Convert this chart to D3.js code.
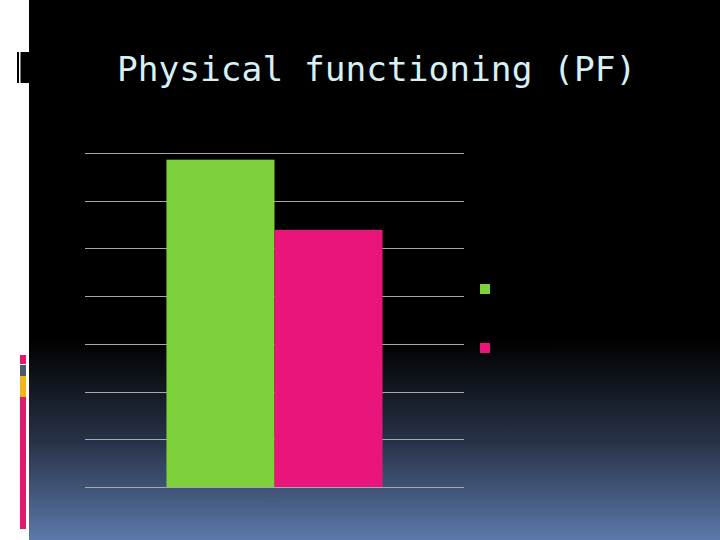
<!DOCTYPE html>
<html>
<head>
<meta charset="utf-8">
<script src="https://cdn.jsdelivr.net/npm/d3@7"></script>
<style>
  html, body { margin: 0; padding: 0; background: #fff; }
  svg { display: block; }
</style>
</head>
<body>
<div id="chart"></div>
<script>
// Chart data
const categories = ["PF"];
const seriesNames = ["Series 1", "Series 2"];
const seriesValues = [68.6, 53.9];
const seriesColors = ["#7fd13b", "#ea157a"];
const yTicks = [0, 10, 20, 30, 40, 50, 60, 70];

(function() {

const W = 720, H = 540;

const svg = d3.select("#chart")
    .append("svg")
    .attr("width", W)
    .attr("height", H);

// Slide background: white strip on the left, black fading to blue at the bottom
const defs = svg.append("defs");
const grad = defs.append("linearGradient")
    .attr("id", "bg")
    .attr("x1", 0).attr("y1", 0).attr("x2", 0).attr("y2", 1);
grad.append("stop").attr("offset", "0").attr("stop-color", "#000");
grad.append("stop").attr("offset", "0.63").attr("stop-color", "#000");
grad.append("stop").attr("offset", "0.82").attr("stop-color", "#283349");
grad.append("stop").attr("offset", "1").attr("stop-color", "#5b79ab");

svg.append("rect").attr("width", W).attr("height", H).attr("fill", "#fff");
svg.append("rect")
    .attr("x", 29).attr("y", 0)
    .attr("width", W - 29).attr("height", H)
    .attr("fill", "url(#bg)");

// Left decorations
svg.append("rect").attr("x", 17).attr("y", 52).attr("width", 12).attr("height", 31).attr("fill", "#000");
svg.append("rect").attr("x", 19).attr("y", 52).attr("width", 1.5).attr("height", 31).attr("fill", "#fff");
const stripes = [
    { y: 355, h: 9, c: "#e0196e" },
    { y: 365, h: 11, c: "#4a5a6a" },
    { y: 376, h: 21, c: "#f0b41c" },
    { y: 397, h: 132, c: "#e0196e" }
];
svg.selectAll(".stripe").data(stripes).enter().append("rect")
    .attr("class", "stripe")
    .attr("x", 20).attr("width", 6)
    .attr("y", d => d.y).attr("height", d => d.h)
    .attr("fill", d => d.c);

// Title
svg.append("text")
    .attr("x", 117)
    .attr("y", 81)
    .attr("font-family", "'DejaVu Sans Mono', 'Liberation Mono', monospace")
    .attr("font-size", "34.5px")
    .attr("fill", "#d6f0f6")
    .text("Physical functioning (PF)");

// Plot area
const margin = { left: 85, top: 153, right: 464, bottom: 487 };

const x0 = d3.scaleBand()
    .domain(categories)
    .range([margin.left, margin.right])
    .paddingInner(0)
    .paddingOuter(0.377);

const x1 = d3.scaleBand()
    .domain(seriesNames)
    .range([0, x0.bandwidth()]);

const y = d3.scaleLinear()
    .domain([0, 70])
    .range([margin.bottom, margin.top]);

// Gridlines
svg.append("g")
    .selectAll("line")
    .data(yTicks)
    .enter().append("line")
    .attr("x1", margin.left).attr("x2", margin.right)
    .attr("y1", d => Math.round(y(d)) + 0.5)
    .attr("y2", d => Math.round(y(d)) + 0.5)
    .attr("stroke", "#a8a8a8")
    .attr("stroke-width", 1);

// Y axis labels: tiny, dark, nearly invisible like the source slide
const yAxis = svg.append("g")
    .attr("transform", `translate(${margin.left},0)`)
    .call(d3.axisLeft(y).tickValues(yTicks).tickSize(0).tickPadding(1));
yAxis.select(".domain").remove();
yAxis.selectAll("text")
    .attr("fill", "#000")
    .attr("fill-opacity", 0.25)
    .attr("font-family", "'Liberation Sans', Arial, sans-serif")
    .attr("font-size", "4px");

// Bars
const rows = seriesNames.map((s, i) => ({ cat: categories[0], name: s, value: seriesValues[i], color: seriesColors[i] }));
svg.append("g")
    .selectAll("rect")
    .data(rows)
    .enter().append("rect")
    .attr("x", d => x0(d.cat) + x1(d.name))
    .attr("width", x1.bandwidth())
    .attr("y", d => y(d.value))
    .attr("height", d => y(0) - y(d.value))
    .attr("fill", d => d.color);

// Category label (hidden against the background)
svg.append("text")
    .attr("x", x0(categories[0]) + x0.bandwidth() / 2)
    .attr("y", margin.bottom + 18)
    .attr("text-anchor", "middle")
    .attr("font-family", "'Liberation Sans', Arial, sans-serif")
    .attr("font-size", "12px")
    .attr("fill", "#000")
    .attr("fill-opacity", 0.04)
    .text(categories[0]);

// Legend
const legendY = [289, 348];
const legend = svg.append("g")
    .selectAll("g")
    .data(rows)
    .enter().append("g")
    .attr("transform", (d, i) => `translate(480,${legendY[i]})`);
legend.append("rect")
    .attr("x", 0).attr("y", -5)
    .attr("width", 10).attr("height", 10)
    .attr("fill", d => d.color);
legend.append("text")
    .attr("x", 20).attr("y", 4)
    .attr("font-family", "'Liberation Sans', Arial, sans-serif")
    .attr("font-size", "13px")
    .attr("fill", "#000")
    .attr("fill-opacity", 0.3)
    .text(d => d.name);

})();
</script>
</body>
</html>
